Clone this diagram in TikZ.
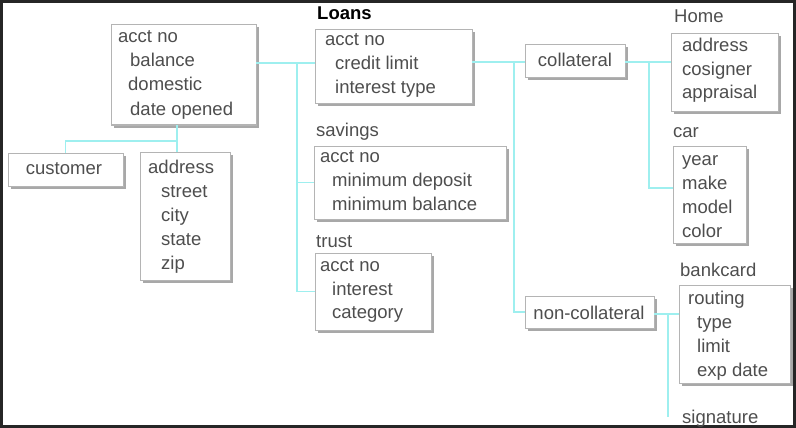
\documentclass[tikz,border=0pt]{standalone}
\usepackage{fontspec}
\setmainfont{Liberation Sans}
\usetikzlibrary{shadows}
\definecolor{framecol}{HTML}{262626}
\definecolor{wirecol}{HTML}{9EEFEF}
\definecolor{edgecol}{HTML}{B4B4B4}
\definecolor{shadecol}{HTML}{A8A8A8}
\definecolor{inkcol}{HTML}{4E4E4E}
\begin{document}
\begin{tikzpicture}[x=1pt,y=-1pt,
  recbox/.style={draw=edgecol, line width=1pt, fill=white, anchor=north west,
    inner sep=0pt, outer sep=0pt,
    drop shadow={shadow xshift=2.5pt, shadow yshift=-2.5pt, fill=shadecol, opacity=1}},
  field/.style={anchor=base west, inner sep=0pt, text=inkcol,
    font=\fontsize{18.5}{22}\selectfont},
  heading/.style={field, text=black, font=\fontsize{18.5}{22}\selectfont\bfseries},
  caption/.style={field},
  conn/.style={draw=wirecol, line width=1.6pt}]
\useasboundingbox (0,0) rectangle (796,428);
\draw[framecol, line width=3pt] (1.5,1.5) rectangle (794.5,426.5);

% account record and its children
\node[recbox, minimum width=145pt, minimum height=100pt] (acct) at (111,25) {};
\node[field] (acctA) at (118,43) {acct no};
\node[field] (acctB) at (130,67) {balance};
\node[field] (acctC) at (128,91) {domestic};
\node[field] (acctD) at (130,115) {date opened};

\node[recbox, minimum width=115pt, minimum height=33pt] (customer) at (8,153) {};
\node[field, anchor=base] (customerT) at (64,175) {customer};

\node[recbox, minimum width=90pt, minimum height=128pt] (addr) at (140,152) {};
\node[field] (addrA) at (148,173) {address};
\node[field] (addrB) at (161,197) {street};
\node[field] (addrC) at (161,221) {city};
\node[field] (addrD) at (161,245) {state};
\node[field] (addrE) at (161,269) {zip};

% loans
\node[heading] (loansT) at (317,20) {Loans};
\node[recbox, minimum width=157pt, minimum height=74pt] (loans) at (315,30) {};
\node[field] (loansA) at (325,46) {acct no};
\node[field] (loansB) at (335,70) {credit limit};
\node[field] (loansC) at (335,94) {interest type};

% savings
\node[caption] (savingsT) at (316,136) {savings};
\node[recbox, minimum width=192pt, minimum height=73pt] (savings) at (314,146) {};
\node[field] (savingsA) at (320,162) {acct no};
\node[field] (savingsB) at (332,186) {minimum deposit};
\node[field] (savingsC) at (332,210) {minimum balance};

% trust
\node[caption] (trustT) at (316,247) {trust};
\node[recbox, minimum width=116pt, minimum height=77pt] (trust) at (315,253) {};
\node[field] (trustA) at (320,271) {acct no};
\node[field] (trustB) at (332,295) {interest};
\node[field] (trustC) at (332,318) {category};

% loan kinds
\node[recbox, minimum width=100pt, minimum height=33pt] (collateral) at (525,45) {};
\node[field, anchor=base] (collateralT) at (575,67) {collateral};
\node[recbox, minimum width=129pt, minimum height=32pt] (noncoll) at (525,296) {};
\node[field, anchor=base] (noncollT) at (589,319) {non-collateral};

% home
\node[field] (homeT) at (674,23) {Home};
\node[recbox, minimum width=107pt, minimum height=78pt] (home) at (671,34) {};
\node[field] (homeA) at (682,52) {address};
\node[field] (homeB) at (682,76) {cosigner};
\node[field] (homeC) at (682,99) {appraisal};

% car
\node[caption] (carT) at (673,138) {car};
\node[recbox, minimum width=73pt, minimum height=97pt] (car) at (673,146) {};
\node[field] (carA) at (682,165) {year};
\node[field] (carB) at (682,189) {make};
\node[field] (carC) at (682,213) {model};
\node[field] (carD) at (682,237) {color};

% bankcard
\node[caption] (bankT) at (680,276) {bankcard};
\node[recbox, minimum width=111pt, minimum height=98pt] (bank) at (679,285) {};
\node[field] (bankA) at (688,304) {routing};
\node[field] (bankB) at (697,328) {type};
\node[field] (bankC) at (697,352) {limit};
\node[field] (bankD) at (697,376) {exp date};

\node[caption] (signature) at (682,423) {signature};

% connectors
\coordinate (busA) at (297,63);
\draw[conn] (acct.east |- busA) -- (loans.west |- busA);
\draw[conn] (busA) |- (savings.west);
\draw[conn] (busA) |- (trust.west);

\coordinate (busB) at (177,141);
\draw[conn] (acct.south -| busB) -- (busB) -| (customer.north);
\draw[conn] (busB) -- (addr.north -| busB);

\coordinate (busC) at (514,62);
\draw[conn] (loans.east |- busC) -- (collateral.west |- busC);
\draw[conn] (busC) |- (noncoll.west);

\coordinate (busD) at (649,62);
\coordinate (carJ) at (649,188);
\draw[conn] (collateral.east |- busD) -- (home.west |- busD);
\draw[conn] (busD) -- (carJ) -- (car.west |- carJ);

\coordinate (busE) at (668,314);
\coordinate (sigEnd) at (668,417);
\draw[conn] (noncoll.east |- busE) -- (bank.west |- busE);
\draw[conn] (busE) -- (sigEnd);
\end{tikzpicture}
\end{document}
